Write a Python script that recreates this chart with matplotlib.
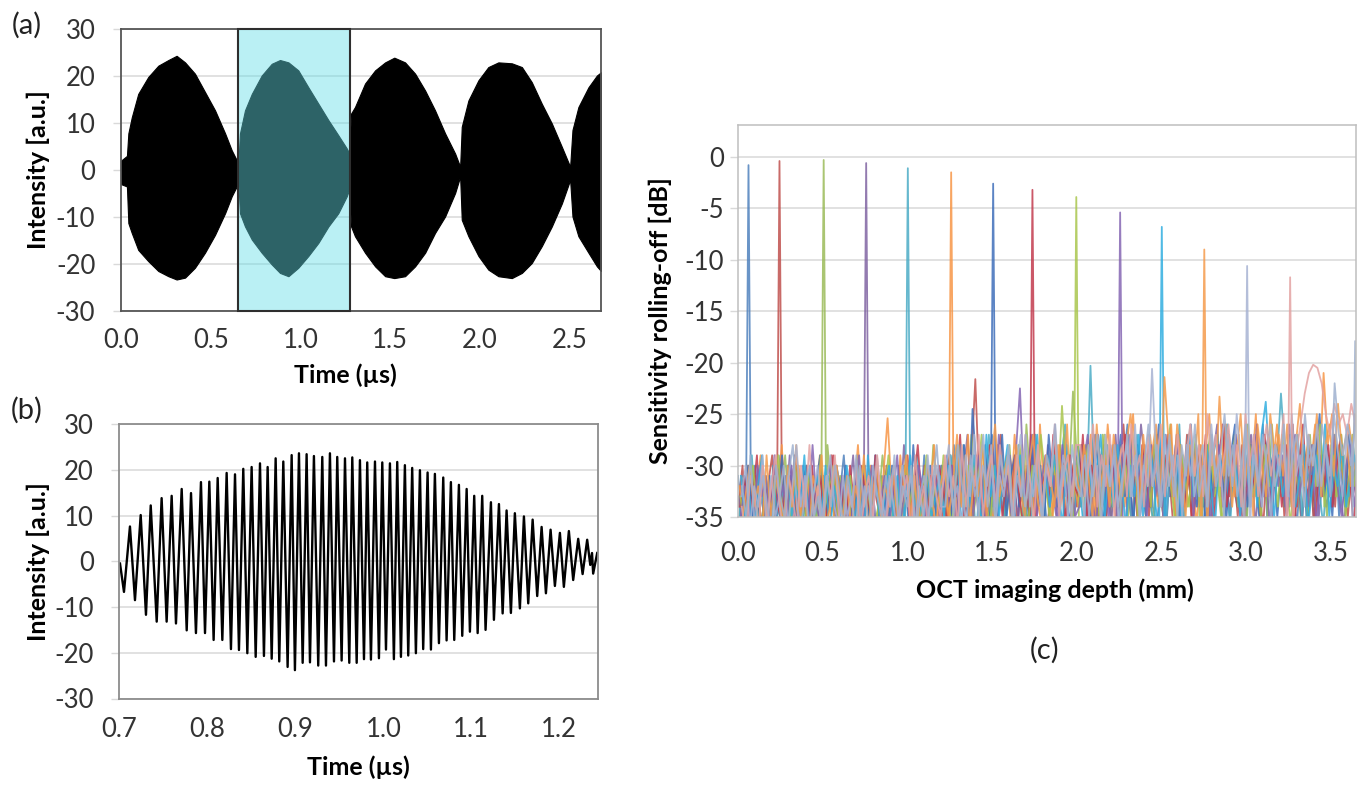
import numpy as np
import matplotlib
matplotlib.use("Agg")
import matplotlib.pyplot as plt
from matplotlib.patches import Rectangle
from matplotlib.ticker import FormatStrFormatter

plt.rcParams['font.family'] = ['Lato', 'DejaVu Sans']
plt.rcParams['axes.unicode_minus'] = False

# ---------------- panel (a): envelope of the swept-source fringe train ----------------
a_time = [0.000, 0.033, 0.041, 0.060, 0.096, 0.152, 0.208, 0.264, 0.310, 0.357, 0.412, 0.468, 0.524, 0.580, 0.617, 0.654,
          0.663, 0.691, 0.729, 0.784, 0.840, 0.886, 0.933, 0.988, 1.044, 1.100, 1.156, 1.211, 1.258, 1.273,
          1.282, 1.304, 1.360, 1.416, 1.472, 1.523, 1.583, 1.639, 1.695, 1.750, 1.806, 1.862, 1.890,
          1.899, 1.936, 1.992, 2.047, 2.103, 2.178, 2.234, 2.289, 2.345, 2.401, 2.457, 2.503,
          2.516, 2.549, 2.605, 2.652, 2.675]
a_upper = [2.0, 3.0, 7.8, 11.2, 16.2, 19.8, 22.2, 23.4, 24.3, 22.9, 20.5, 16.6, 12.7, 7.8, 4.2, 1.4,
           7.8, 12.7, 16.2, 20.1, 22.6, 23.4, 22.9, 21.2, 17.6, 14.1, 10.6, 7.4, 4.6, 3.5,
           12.0, 13.4, 18.4, 21.2, 22.9, 23.9, 22.9, 20.5, 16.9, 12.7, 7.8, 3.5, 0.7,
           9.2, 14.8, 19.1, 21.9, 22.9, 22.7, 21.9, 18.7, 14.1, 9.9, 4.9, 0.7,
           8.5, 13.4, 17.6, 20.1, 20.8]
a_lower = [-3.0, -3.5, -11.3, -13.4, -17.0, -19.4, -21.5, -22.6, -23.3, -22.9, -20.8, -17.6, -13.8, -9.2, -5.6, -2.8,
           -9.2, -12.0, -14.8, -17.6, -20.1, -21.9, -22.6, -20.8, -18.3, -15.5, -12.0, -9.2, -5.6, -4.0,
           -12.0, -14.1, -17.6, -20.5, -22.6, -23.0, -22.6, -20.5, -17.6, -13.4, -9.9, -4.9, -1.4,
           -10.6, -14.1, -18.3, -21.2, -22.6, -23.0, -21.9, -19.8, -16.2, -12.0, -7.1, -2.1,
           -9.9, -14.1, -17.6, -20.5, -21.5]
a_box = [0.652, 1.275]          # highlighted sweep (time range)
a_xticks = [0.0, 0.5, 1.0, 1.5, 2.0, 2.5]
a_yticks = [-30, -20, -10, 0, 10, 20, 30]

# ---------------- panel (b): one sweep, extrema of the fringe ----------------
b_time = [0.7007, 0.7052, 0.7120, 0.7177, 0.7242, 0.7302, 0.7356, 0.7424, 0.7480, 0.7537, 0.7594, 0.7643,
          0.7708, 0.7765, 0.7814, 0.7870, 0.7927, 0.7973, 0.8022, 0.8071, 0.8117, 0.8170, 0.8219, 0.8268,
          0.8314, 0.8359, 0.8408, 0.8454, 0.8503, 0.8549, 0.8598, 0.8643, 0.8685, 0.8731, 0.8776, 0.8817,
          0.8863, 0.8912, 0.8958, 0.8995, 0.9041, 0.9083, 0.9128, 0.9166, 0.9211, 0.9260, 0.9306, 0.9348,
          0.9393, 0.9439, 0.9476, 0.9526, 0.9564, 0.9613, 0.9647, 0.9697, 0.9734, 0.9780, 0.9817, 0.9859,
          0.9905, 0.9950, 0.9988, 1.0030, 1.0075, 1.0120, 1.0158, 1.0200, 1.0245, 1.0283, 1.0328, 1.0370,
          1.0416, 1.0453, 1.0503, 1.0541, 1.0586, 1.0632, 1.0681, 1.0719, 1.0768, 1.0806, 1.0859, 1.0897,
          1.0947, 1.0984, 1.1033, 1.1072, 1.1124, 1.1162, 1.1223, 1.1257, 1.1314, 1.1356, 1.1401, 1.1450,
          1.1495, 1.1552, 1.1598, 1.1647, 1.1697, 1.1749, 1.1799, 1.1848, 1.1901, 1.1950, 1.2007, 1.2052,
          1.2109, 1.2158, 1.2215, 1.2265, 1.2317, 1.2352, 1.2372, 1.2385, 1.2431]
b_value = [-0.5, -6.7, 7.6, -8.5, 10.1, -11.7, 12.2, -13.2, 13.8, -13.2, 14.3, -13.6,
           15.8, -15.1, 14.9, -15.7, 17.3, -15.7, 17.4, -17.2, 18.2, -17.2, 19.3, -19.2,
           19.0, -19.4, 20.2, -20.1, 20.6, -20.9, 21.4, -20.7, 20.6, -21.3, 22.5, -21.9,
           21.8, -23.1, 23.2, -23.8, 23.6, -22.2, 23.4, -22.1, 23.0, -22.8, 22.8, -22.8,
           23.6, -21.9, 22.8, -21.7, 22.5, -22.2, 22.7, -22.2, 22.1, -21.4, 21.6, -21.5,
           21.8, -21.2, 21.6, -19.3, 21.4, -21.4, 21.7, -20.9, 21.0, -20.6, 20.4, -20.1,
           19.9, -19.2, 19.4, -19.3, 19.1, -17.9, 18.3, -17.3, 17.3, -17.2, 16.7, -16.3,
           15.8, -15.4, 14.3, -15.7, 14.3, -15.0, 12.9, -12.8, 12.5, -11.4, 11.1, -11.3,
           10.5, -10.3, 9.8, -9.2, 9.1, -7.6, 7.5, -7.0, 6.9, -5.4, 6.2, -5.6,
           6.6, -4.1, 4.9, -2.8, 4.7, -0.8, 1.8, -2.7, 1.8]
b_xticks = [0.7, 0.8, 0.9, 1.0, 1.1, 1.2]
b_yticks = [-30, -20, -10, 0, 10, 20, 30]

# ---------------- panel (c): sensitivity roll-off ----------------
c_peak_pos = [0.062, 0.245, 0.506, 0.757, 1.003, 1.259, 1.507, 1.739, 1.998, 2.257, 2.503, 2.754, 3.007, 3.261, 3.645]
c_peak_db = [-0.8, -0.4, -0.3, -0.6, -1.1, -1.5, -2.6, -3.2, -3.9, -5.4, -6.8, -9.0, -10.6, -11.7, -17.9]
c_colors = ['#4f81bd', '#c0504d', '#9bbb59', '#8064a2', '#4bacc6', '#f79646', '#3f6fba', '#c23b4e',
            '#a9c64d', '#8566b3', '#31aee0', '#f59b4c', '#a7b3d3', '#e3a3a2', '#9fb1cf']
c_xticks = [0.0, 0.5, 1.0, 1.5, 2.0, 2.5, 3.0, 3.5]
c_yticks = [0, -5, -10, -15, -20, -25, -30, -35]

# noise floor of each A-scan, sampled every 0.025 mm (dB)
noise_t01 = [-31,-35,-33,-37,-30,-34,-36,-32,-38,-33,-29,-35,
             -34,-31,-36,-33,-38,-30,-35,-32,-37,-34,-31,-36,
             -33,-29,-35,-37,-32,-34,-30,-36,-33,-38,-31,-35,
             -32,-36,-30,-34,-37,-31,-33,-35,-29,-36,-34,-32,
             -30,-35,-33,-28,-36,-31,-34,-37,-29,-33,-35,-31,-27,-34,-32,-36,
             -30,-33,-37,-29,-35,-32,-28,-34,-31,-36,-33,-30,-35,-27,-32,-34,
             -29,-34,-31,-36,-27,-33,-30,-35,-28,-32,-37,-30,
             -26,-33,-29,-35,-31,-28,-34,-36,-30,-27,-33,-31,
             -35,-29,-32,-26,-34,-30,-37,-28,-33,-31,-29,-35,
             -27,-32,-34,-30,-36,-28,-31,-33,-26,-35,-30,-32,
             -29,-34,-27,-31,-36,-30,-33,-28,-35,-31,-29,-34,
             -32,-27,-35,-30,-33,-29,-31]
noise_t02 = [-34,-30,-36,-33,-31,-37,-35,-32,-29,-34,-36,-31,
             -33,-38,-30,-35,-32,-34,-37,-31,-33,-36,-29,-35,
             -32,-34,-31,-37,-33,-30,-35,-38,-32,-34,-36,-30,
             -33,-31,-35,-37,-29,-34,-32,-36,-30,-33,-35,-31,
             -36,-32,-29,-35,-31,-34,-37,-30,-21.6,-33,-36,-29,-34,-31,-27,-35,
             -32,-30,-36,-28,-33,-35,-31,-29,-34,-37,-30,-32,-28,-35,-33,-31,
             -34,-28,-32,-36,-30,-27,-33,-35,-29,-31,-34,-26,
             -32,-36,-30,-33,-28,-35,-31,-27,-34,-29,-32,-37,
             -30,-33,-27,-35,-31,-28,-34,-30,-36,-29,-32,-26,
             -33,-30,-35,-28,-31,-34,-27,-32,-36,-29,-33,-30,
             -28,-35,-31,-26,-34,-30,-32,-29,-36,-27,-33,-31,
             -29,-34,-28,-32,-35,-30,-33]
noise_t03 = [-36,-32,-34,-30,-37,-33,-31,-35,-38,-32,-34,-29,
             -35,-33,-31,-36,-30,-34,-37,-32,-35,-28,-33,-36,
             -31,-34,-32,-37,-30,-35,-33,-31,-36,-34,-29,-33,
             -37,-31,-35,-32,-34,-30,-36,-33,-31,-35,-28,-34,
             -31,-35,-29,-33,-36,-30,-34,-27,-32,-35,-31,-37,-29,-33,-30,-35,
             -28,-34,-31,-36,-26,-32,-34,-29,-33,-31,-36,-28,-34,-30,-32,-22.8,
             -30,-34,-28,-33,-31,-36,-27,-32,-35,-29,-33,-30,
             -35,-27,-31,-34,-29,-32,-36,-28,-33,-30,-26,-35,
             -31,-29,-34,-32,-27,-36,-30,-33,-28,-31,-35,-29,
             -32,-27,-34,-30,-36,-28,-33,-31,-29,-35,-26,-32,
             -30,-34,-28,-33,-31,-36,-29,-27,-34,-32,-30,-35,
             -28,-33,-31,-29,-34,-27,-32]
noise_t04 = [-33,-37,-31,-35,-34,-30,-36,-32,-38,-33,-31,-35,
             -29,-34,-37,-32,-30,-36,-33,-35,-31,-37,-34,-30,
             -32,-36,-33,-29,-35,-31,-34,-37,-30,-33,-36,-32,
             -34,-31,-35,-28,-33,-37,-30,-34,-32,-36,-31,-33,
             -30,-33,-36,-29,-34,-31,-27,-35,-32,-37,-30,-33,-28,-36,-31,-34,
             -29,-32,-35,-30,-33,-27,-36,-31,-34,-28,-32,-35,-30,-33,-29,-36,
             -32,-29,-35,-31,-37,-28,-33,-30,-36,-27,-34,-31,
             -29,-35,-32,-26,-30,-34,-28,-33,-31,-36,-29,-32,
             -27,-35,-30,-33,-28,-34,-31,-36,-29,-26,-33,-30,
             -35,-28,-32,-34,-30,-27,-36,-31,-33,-29,-35,-28,
             -31,-34,-26,-32,-30,-36,-29,-33,-27,-35,-31,-28,
             -34,-30,-32,-36,-29,-33,-31]
noise_t05 = [-35,-31,-33,-29,-36,-34,-32,-37,-30,-35,-33,-31,
             -38,-29,-34,-36,-32,-30,-35,-33,-37,-31,-34,-30,
             -33,-36,-31,-35,-29,-34,-32,-37,-30,-33,-35,-31,
             -36,-32,-34,-30,-37,-33,-29,-35,-31,-34,-36,-32,
             -33,-36,-29,-32,-35,-28,-34,-31,-37,-30,-33,-27,-35,-32,-29,-36,
             -31,-34,-28,-33,-30,-36,-27,-32,-35,-29,-31,-34,-30,-26,-33,-35,
             -31,-28,-34,-20.3,-33,-30,-36,-28,-33,-31,-35,-29,
             -32,-37,-27,-34,-30,-33,-36,-28,-31,-35,-29,-33,
             -26,-36,-31,-34,-28,-32,-30,-35,-29,-27,-33,-31,
             -36,-28,-34,-30,-26,-33,-29,-35,-31,-27,-32,-30,
             -23,-29,-34,-31,-27,-35,-30,-33,-28,-32,-36,-29,
             -31,-27,-34,-30,-33,-28,-32]
noise_t06 = [-32,-35,-30,-37,-33,-29,-34,-36,-31,-33,-28,-35,
             -32,-37,-30,-34,-31,-36,-33,-29,-35,-32,-37,-30,
             -34,-31,-36,-33,-28,-35,-32,-30,-37,-34,-31,-25.4,
             -33,-36,-29,-34,-31,-35,-32,-37,-30,-33,-28,-35,
             -31,-34,-28,-36,-30,-33,-27,-35,-31,-29,-34,-32,-36,-28,-33,-30,
             -35,-27,-32,-34,-29,-31,-36,-26,-33,-30,-35,-28,-32,-34,-29,-31,
             -34,-29,-32,-27,-35,-30,-33,-26,-31,-36,-28,-34,
             -30,-25,-33,-29,-35,-27,-31,-34,-28,-32,-26,-35,
             -30,-33,-27,-31,-36,-28,-29,-25,-32,-28,-34,-26,
             -30,-33,-27,-35,-29,-31,-25,-34,-28,-32,-30,-26,
             -33,-29,-27,-35,-31,-28,-34,-30,-26,-32,-21,-28,
             -25,-31,-27,-33,-26,-29,-32]
noise_t07 = [-37,-33,-30,-35,-32,-36,-34,-31,-38,-33,-29,-35,
             -31,-34,-37,-30,-33,-36,-32,-29,-35,-33,-31,-36,
             -34,-30,-37,-32,-35,-31,-33,-36,-29,-34,-32,-37,
             -30,-35,-33,-31,-36,-28,-34,-32,-35,-30,-33,-37,
             -33,-29,-35,-31,-34,-28,-36,-24.5,-31,-34,-28,-36,-30,-33,-27,-35,
             -31,-29,-34,-32,-36,-28,-33,-30,-35,-27,-32,-34,-29,-31,-36,-30,
             -28,-33,-30,-35,-27,-32,-36,-29,-34,-31,-27,-33,
             -30,-36,-28,-32,-35,-29,-31,-26,-34,-30,-33,-28,
             -35,-31,-27,-32,-34,-29,-36,-30,-33,-28,-31,-35,
             -29,-26,-33,-30,-34,-28,-32,-36,-27,-31,-29,-35,
             -30,-33,-27,-34,-31,-28,-36,-32,-29,-25,-33,-30,
             -35,-28,-31,-34,-27,-32,-29]
noise_t08 = [-34,-31,-36,-33,-29,-37,-32,-35,-30,-34,-36,-31,
             -33,-29,-35,-32,-37,-30,-34,-31,-36,-33,-29,-35,
             -32,-36,-30,-34,-38,-31,-33,-35,-29,-36,-32,-34,
             -31,-37,-33,-30,-35,-32,-28,-34,-36,-31,-33,-30,
             -32,-36,-30,-33,-27,-35,-31,-34,-29,-33,-36,-28,-32,-30,-35,-31,
             -34,-29,-33,-36,-30,-28,-35,-32,-31,-34,-27,-33,-30,-36,-29,-32,
             -33,-27,-35,-30,-32,-36,-28,-34,-31,-29,-35,-27,
             -33,-30,-36,-28,-32,-34,-29,-31,-35,-27,-33,-30,
             -28,-34,-31,-36,-29,-33,-27,-32,-35,-30,-26,-34,
             -31,-28,-33,-36,-29,-32,-30,-35,-27,-33,-31,-29,
             -34,-28,-32,-36,-30,-26,-33,-31,-35,-29,-32,-28,
             -34,-30,-27,-33,-31,-36,-29]
noise_t09 = [-33,-36,-32,-30,-35,-37,-31,-34,-33,-29,-36,-32,
             -35,-30,-34,-37,-31,-33,-36,-29,-34,-32,-30,-35,
             -37,-33,-31,-36,-34,-30,-32,-35,-38,-31,-33,-29,
             -35,-32,-36,-30,-34,-31,-37,-33,-29,-35,-32,-34,
             -29,-33,-36,-31,-28,-34,-30,-35,-32,-27,-33,-36,-30,-34,-31,-29,
             -35,-32,-28,-33,-36,-30,-34,-27,-31,-35,-29,-33,-24.2,-31,-34,-28,
             -30,-35,-28,-33,-31,-36,-27,-32,-34,-29,-35,-30,
             -33,-28,-36,-31,-29,-34,-27,-32,-35,-30,-33,-36,
             -28,-31,-34,-29,-32,-35,-30,-27,-33,-31,-36,-28,
             -32,-29,-34,-30,-26,-33,-31,-35,-28,-32,-30,-34,
             -27,-31,-36,-29,-33,-30,-35,-28,-32,-26,-34,-31,
             -29,-33,-27,-35,-30,-32,-28]
noise_t10 = [-35,-32,-34,-37,-30,-33,-31,-36,-29,-34,-32,-35,
             -30,-37,-33,-31,-35,-28,-34,-36,-32,-30,-33,-37,
             -31,-34,-36,-32,-29,-35,-33,-30,-37,-34,-31,-36,
             -33,-29,-35,-31,-34,-37,-30,-32,-36,-33,-31,-35,
             -31,-34,-30,-36,-28,-33,-31,-35,-29,-32,-36,-30,-34,-27,-33,-31,
             -35,-29,-22.5,-33,-30,-27,-35,-32,-29,-34,-31,-36,-28,-33,-30,-35,
             -34,-30,-27,-33,-36,-29,-31,-35,-28,-32,-30,-36,
             -27,-33,-31,-29,-35,-28,-33,-30,-36,-29,-32,-27,
             -34,-31,-28,-35,-30,-33,-29,-36,-31,-28,-34,-30,
             -32,-27,-35,-29,-33,-31,-26,-34,-30,-36,-28,-32,
             -29,-35,-31,-27,-33,-30,-34,-28,-36,-31,-29,-33,
             -27,-32,-35,-30,-28,-34,-31]
noise_t11 = [-31,-35,-33,-37,-32,-29,-34,-36,-31,-33,-38,-30,
             -35,-32,-34,-29,-36,-33,-31,-35,-30,-37,-32,-34,
             -36,-30,-33,-35,-31,-38,-29,-34,-32,-36,-33,-30,
             -35,-31,-37,-33,-29,-34,-32,-36,-30,-35,-33,-31,
             -35,-30,-33,-28,-36,-31,-34,-29,-32,-36,-27,-33,-30,-35,-31,-28,
             -34,-32,-29,-36,-30,-33,-27,-35,-31,-34,-29,-32,-36,-28,-33,-30,
             -32,-36,-29,-33,-31,-27,-35,-30,-34,-28,-32,-36,
             -30,-33,-27,-35,-31,-29,-34,-30,-36,-28,-32,-29,
             -35,-31,-27,-33,-30,-34,-28,-32,-36,-29,-31,-26,
             -33,-30,-35,-28,-32,-29,-34,-27,-23.8,-31,-35,-29,
             -33,-30,-27,-34,-31,-28,-36,-32,-29,-33,-26,-35,
             -30,-32,-28,-34,-31,-29,-33]
noise_t12 = [-36,-33,-30,-34,-32,-37,-29,-35,-31,-33,-36,-30,
             -34,-28,-35,-32,-37,-31,-33,-29,-36,-34,-30,-33,
             -35,-31,-37,-32,-34,-29,-36,-33,-30,-35,-32,-34,
             -31,-36,-33,-29,-35,-31,-37,-34,-30,-33,-36,-32,
             -30,-35,-32,-27,-34,-29,-36,-31,-33,-28,-35,-30,-26,-33,-31,-29,
             -34,-28,-32,-35,-30,-27,-33,-36,-29,-31,-34,-28,-32,-26,-35,-30,
             -33,-28,-31,-35,-26,-32,-29,-34,-27,-31,-33,-28,
             -25,-30,-34,-27,-32,-29,-26,-33,-21.4,-28,-33,-26,
             -30,-35,-28,-31,-25,-33,-29,-27,-32,-23.3,-31,-27,
             -34,-29,-25,-32,-28,-35,-26,-30,-33,-25,-29,-27,
             -31,-26,-34,-28,-24,-32,-27,-30,-25,-33,-28,-26,
             -31,-24,-29,-27,-32,-25,-28]
noise_t13 = [-33,-30,-36,-32,-34,-29,-37,-31,-35,-33,-30,-36,
             -32,-28,-34,-31,-37,-33,-30,-35,-32,-29,-34,-36,
             -31,-35,-33,-37,-30,-34,-32,-36,-29,-33,-35,-31,
             -34,-37,-30,-33,-31,-36,-32,-35,-29,-34,-30,-33,
             -31,-28,-34,-32,-36,-29,-33,-27,-35,-30,-32,-28,-36,-31,-33,-29,
             -35,-30,-27,-34,-31,-33,-28,-36,-30,-32,-26,-34,-29,-31,-35,-28,
             -31,-35,-28,-33,-30,-36,-27,-32,-29,-34,-31,-28,
             -33,-26,-35,-30,-32,-20.6,-30,-34,-27,-32,-29,-35,
             -28,-31,-26,-33,-30,-28,-34,-26,-31,-29,-35,-27,
             -32,-25,-30,-28,-33,-27,-31,-34,-29,-26,-32,-30,
             -28,-33,-25,-31,-29,-34,-27,-30,-26,-32,-28,-31,
             -25,-29,-33,-27,-30,-26,-28]
noise_t14 = [-34,-37,-31,-33,-36,-30,-35,-32,-29,-34,-37,-31,
             -33,-36,-30,-34,-28,-35,-32,-37,-31,-33,-29,-35,
             -36,-32,-34,-30,-37,-33,-31,-35,-29,-34,-36,-32,
             -30,-35,-33,-31,-37,-29,-34,-32,-36,-30,-33,-35,
             -29,-33,-31,-36,-28,-34,-30,-32,-27,-35,-31,-29,-34,-28,-32,-30,
             -35,-29,-33,-27,-31,-36,-28,-34,-30,-32,-26,-35,-31,-29,-33,-28,
             -28,-33,-30,-26,-34,-29,-32,-27,-35,-30,-28,-33,
             -26,-31,-29,-34,-27,-32,-30,-26,-33,-28,-31,-27,
             -34,-29,-26,-31,-28,-33,-25,-30,-27,-32,-29,-26,
             -31,-28,-34,-25,-30,-27,-33,-29,-26,-31,-28,-30,
             -25,-32,-27,-29,-26,-23,-21,-20.2,-20.5,-22,-25,-27,
             -24,-26,-25,-27,-24,-26,-25]
noise_t15 = [-32,-35,-29,-36,-33,-31,-34,-37,-30,-33,-35,-31,
             -28,-34,-36,-32,-30,-35,-33,-37,-31,-34,-30,-33,
             -36,-31,-34,-29,-35,-32,-37,-30,-33,-35,-31,-34,
             -29,-36,-32,-34,-30,-37,-33,-31,-35,-32,-28,-34,
             -34,-30,-35,-28,-32,-36,-29,-33,-31,-27,-34,-30,-35,-29,-32,-28,
             -36,-31,-33,-27,-34,-30,-32,-35,-29,-31,-26,-33,-30,-35,-28,-32,
             -33,-29,-35,-31,-27,-34,-30,-32,-28,-36,-31,-27,
             -33,-29,-35,-30,-26,-32,-28,-34,-31,-27,-33,-29,
             -35,-28,-31,-26,-33,-30,-34,-27,-32,-29,-25,-31,
             -28,-33,-30,-26,-34,-29,-32,-27,-30,-35,-28,-31,
             -26,-33,-29,-27,-31,-25,-30,-28,-32,-26,-29,-33,
             -22,-27,-29,-26,-28,-30,-27]
c_noise = [noise_t01, noise_t02, noise_t03, noise_t04, noise_t05, noise_t06, noise_t07, noise_t08,
           noise_t09, noise_t10, noise_t11, noise_t12, noise_t13, noise_t14, noise_t15]

# ---------------- figure ----------------
W, H = 1360, 787
fig = plt.figure(figsize=(W / 100, H / 100), dpi=100)

def px_axes(left, top, right, bottom):
    return fig.add_axes([left / W, 1 - bottom / H, (right - left) / W, (bottom - top) / H])

TICK_FS = 18.5
LAB_FS = 18
TICK_COL = '#333333'
GRID_COL = '#d9d9d9'

def style(ax, spine_col, spine_lw, xpad):
    ax.set_axisbelow(True)
    ax.yaxis.grid(True, color=GRID_COL, lw=1.1)
    for s in ax.spines.values():
        s.set_color(spine_col)
        s.set_linewidth(spine_lw)
    ax.tick_params(axis='y', length=6, width=1.0, color=GRID_COL, pad=12.5,
                   labelsize=TICK_FS, labelcolor=TICK_COL)
    ax.tick_params(axis='x', length=0, pad=xpad, labelsize=TICK_FS, labelcolor=TICK_COL)

# panel (a)
ax_a = px_axes(121, 29, 601, 311)
ax_a.fill_between(a_time, a_lower, a_upper, facecolor='black', edgecolor='black', lw=0.8, zorder=2)
ax_a.add_patch(Rectangle((a_box[0], -30), a_box[1] - a_box[0], 60, facecolor='#66dee7', alpha=0.45,
                         edgecolor='none', zorder=3))
ax_a.add_patch(Rectangle((a_box[0], -30), a_box[1] - a_box[0], 60, fill=False, edgecolor='#2e2e2e',
                         lw=1.5, zorder=4, clip_on=False))
ax_a.set_xlim(0, 2.675)
ax_a.set_ylim(-30, 30)
ax_a.set_xticks(a_xticks)
ax_a.set_yticks(a_yticks)
ax_a.xaxis.set_major_formatter(FormatStrFormatter('%.1f'))
style(ax_a, '#555555', 1.3, 12)
ax_a.set_xlabel('Time (µs)', fontsize=LAB_FS, fontweight='bold', va='center')
ax_a.xaxis.set_label_coords(0.467, -0.227)
ax_a.set_ylabel('Intensity [a.u.]', fontsize=LAB_FS, fontweight='bold', va='center')
ax_a.yaxis.set_label_coords(-0.172, 0.5)

# panel (b)
ax_b = px_axes(119.4, 424, 598, 698.5)
ax_b.plot(b_time, b_value, color='black', lw=1.7, solid_joinstyle='round')
ax_b.set_xlim(0.7, 1.244)
ax_b.set_ylim(-30, 30)
ax_b.set_xticks(b_xticks)
ax_b.set_yticks(b_yticks)
ax_b.xaxis.set_major_formatter(FormatStrFormatter('%.1f'))
style(ax_b, '#8c8c8c', 1.3, 13)
ax_b.set_xlabel('Time (µs)', fontsize=LAB_FS, fontweight='bold', va='center')
ax_b.xaxis.set_label_coords(0.50, -0.25)
ax_b.set_ylabel('Intensity [a.u.]', fontsize=LAB_FS, fontweight='bold', va='center')
ax_b.yaxis.set_label_coords(-0.169, 0.5)

# panel (c)
ax_c = px_axes(738, 125, 1356, 517)
for k in range(len(c_noise)):
    ys = np.array(c_noise[k], dtype=float)
    xs = np.arange(len(ys)) * 0.025 + k * 0.0017
    p, h = c_peak_pos[k], c_peak_db[k]
    keep = np.abs(xs - p) > 0.02
    x_all = np.concatenate([xs[keep], [p - 0.016, p, p + 0.016]])
    y_all = np.concatenate([ys[keep], [-37.0, h, -37.0]])
    order = np.argsort(x_all)
    ax_c.plot(x_all[order], y_all[order], color=c_colors[k], lw=1.3, alpha=0.85)
ax_c.set_xlim(0, 3.65)
ax_c.set_ylim(-35, 3.1)
ax_c.set_xticks(c_xticks)
ax_c.set_yticks(c_yticks)
ax_c.xaxis.set_major_formatter(FormatStrFormatter('%.1f'))
style(ax_c, '#bfbfbf', 1.1, 17)
ax_c.tick_params(axis='y', pad=4)
ax_c.set_xlabel('OCT imaging depth (mm)', fontsize=LAB_FS, fontweight='bold', va='center')
ax_c.xaxis.set_label_coords(0.513, -0.186)
ax_c.set_ylabel('Sensitivity rolling-off [dB]', fontsize=LAB_FS, fontweight='bold', va='center')
ax_c.yaxis.set_label_coords(-0.125, 0.5)

# panel letters
fig.text(27 / W, 1 - 25 / H, '(a)', fontsize=21, ha='center', va='center', color='#222222')
fig.text(27 / W, 1 - 410 / H, '(b)', fontsize=21, ha='center', va='center', color='#222222')
fig.text(1045 / W, 1 - 650 / H, '(c)', fontsize=21, ha='center', va='center', color='#222222')

fig.savefig('out.png', dpi=100)
